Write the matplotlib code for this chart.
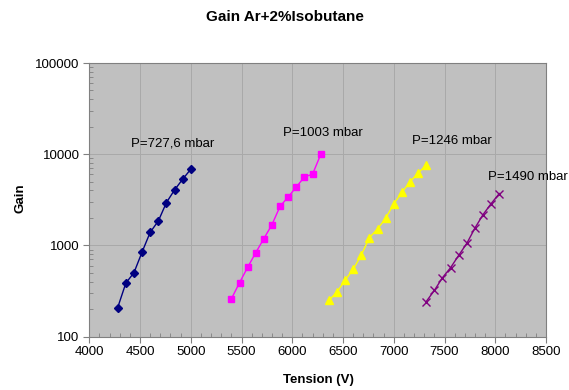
import matplotlib
matplotlib.use("Agg")
import matplotlib.pyplot as plt
from matplotlib.ticker import FixedLocator, LogLocator, NullFormatter, FuncFormatter

plt.rcParams['font.family'] = ['Liberation Sans', 'DejaVu Sans']

v_727 = [4280, 4360, 4440, 4520, 4600, 4680, 4760, 4840, 4920, 5000]
g_727 = [208, 385, 501, 844, 1390, 1849, 2946, 4052, 5312, 6842]

v_1003 = [5400, 5480, 5560, 5640, 5720, 5800, 5880, 5960, 6040, 6120, 6200, 6280]
g_1003 = [259, 389, 573, 831, 1185, 1688, 2683, 3395, 4371, 5631, 6030, 9930]

v_1246 = [6360, 6440, 6520, 6600, 6680, 6760, 6840, 6920, 7000, 7080, 7160, 7240, 7320]
g_1246 = [249, 307, 415, 545, 782, 1215, 1511, 1981, 2844, 3821, 4964, 6236, 7570]

v_1490 = [7320, 7400, 7480, 7560, 7640, 7720, 7800, 7880, 7960, 8040]
g_1490 = [242, 320, 442, 569, 777, 1052, 1549, 2175, 2873, 3700]

labels = ["P=727,6 mbar", "P=1003 mbar", "P=1246 mbar", "P=1490 mbar"]
x_ticks = [4000, 4500, 5000, 5500, 6000, 6500, 7000, 7500, 8000, 8500]
y_ticks = [100, 1000, 10000, 100000]

fig = plt.figure(figsize=(5.69, 3.90), dpi=100)
ax = fig.add_axes([89.3 / 569, 1 - 336.5 / 390, (546 - 89.3) / 569, (336.5 - 63) / 390])
ax.set_facecolor('#C0C0C0')

ax.plot(v_727, g_727, color='#000080', marker='D', markersize=4.5, lw=1.0)
ax.plot(v_1003, g_1003, color='#FF00FF', marker='s', markersize=5, lw=1.0)
ax.plot(v_1246, g_1246, color='#FFFF00', marker='^', markersize=6, lw=1.0)
ax.plot(v_1490, g_1490, color='#800080', marker='x', markersize=5.5, mew=1.0, lw=1.0)

ax.set_yscale('log')
ax.set_xlim(4000, 8500)
ax.set_ylim(100, 100000)
ax.xaxis.set_major_locator(FixedLocator(x_ticks))
ax.xaxis.set_minor_locator(FixedLocator(list(range(4000, 8501, 100))))
ax.yaxis.set_major_locator(FixedLocator(y_ticks))
ax.yaxis.set_minor_locator(LogLocator(base=10, subs=range(2, 10)))
ax.yaxis.set_minor_formatter(NullFormatter())
ax.yaxis.set_major_formatter(FuncFormatter(lambda v, p: f"{int(round(v))}"))
ax.xaxis.set_major_formatter(FuncFormatter(lambda v, p: f"{int(round(v))}"))

ax.grid(True, which='major', color='#A9A9A9', lw=0.7)
ax.set_axisbelow(True)
for s in ax.spines.values():
    s.set_color('#808080')
    s.set_linewidth(0.8)
ax.tick_params(which='major', direction='out', length=4, color='#808080', labelsize=9.5, pad=3)
ax.tick_params(which='minor', direction='in', length=3, color='#808080')

ax.text(4410, 13200, labels[0], fontsize=9.5, va='center', ha='left')
ax.text(5910, 17000, labels[1], fontsize=9.5, va='center', ha='left')
ax.text(7180, 13800, labels[2], fontsize=9.5, va='center', ha='left')
ax.text(7930, 5600, labels[3], fontsize=9.5, va='center', ha='left', clip_on=False)

fig.text(285 / 569, 1 - 17 / 390, "Gain Ar+2%Isobutane", fontsize=11, fontweight='bold', ha='center', va='center')
fig.text(318 / 569, 1 - 380 / 390, "Tension (V)", fontsize=9.5, fontweight='bold', ha='center', va='center')
fig.text(20 / 569, 1 - 198 / 390, "Gain", fontsize=9.5, fontweight='bold', ha='center', va='center', rotation=90)

fig.savefig("out.png", dpi=100)
